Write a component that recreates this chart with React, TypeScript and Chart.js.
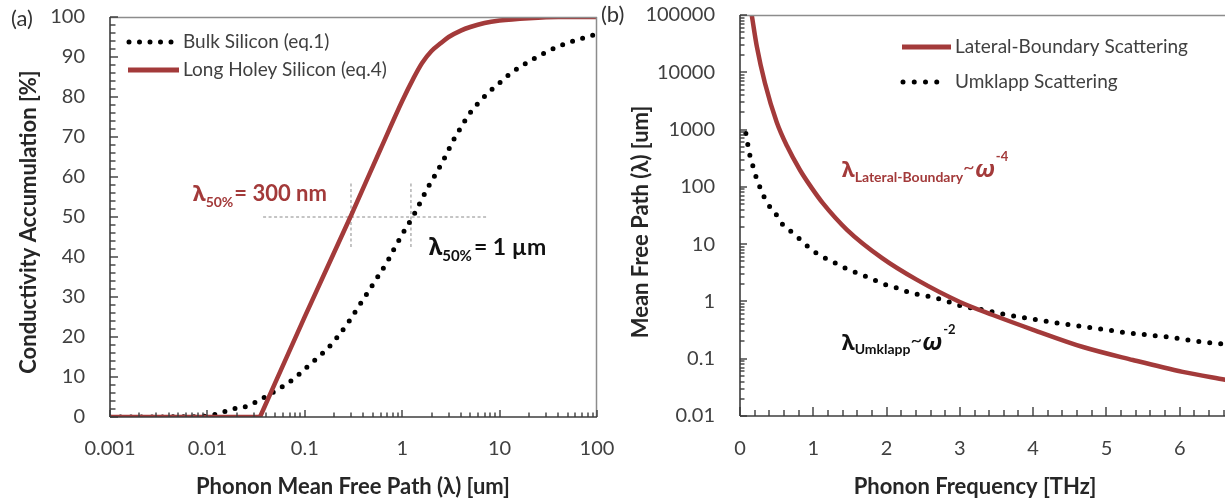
import React, { useEffect, useRef } from 'react';
import { Chart, registerables } from 'chart.js';

Chart.register(...registerables);

const FONT = "Lato, 'Noto Sans', 'DejaVu Sans', sans-serif";
const GREEK = "'Noto Sans', 'DejaVu Sans', sans-serif";
const RED = '#A33A3A';
const AXIS = '#3c3c3c';
const BORDER = '#8c8c8c';
const TICK_TEXT = '#404040';
const TITLE_TEXT = '#262626';

// ---------------- Panel (a): conductivity accumulation ----------------
const bulkMfp = [0.001, 0.008, 0.0114, 0.0183, 0.0238, 0.03, 0.037, 0.0556, 0.069, 0.083, 0.1, 0.124, 0.177, 0.213, 0.277, 0.35, 0.434, 0.577, 0.71, 0.824, 1.02, 1.35, 1.8, 2.3, 2.75, 3.32, 4.1, 4.97, 6.6, 8.0, 10.0, 12.8, 21.5, 41.7, 87, 100];
const bulkAccum = [0, 0.1, 0.5, 2.0, 2.5, 3.5, 4.7, 7.2, 8.7, 10.2, 12.0, 14.0, 17.5, 19.8, 23.5, 27.3, 30.8, 35.5, 39.0, 42.0, 46.0, 51.0, 57.0, 61.5, 65.0, 69.0, 72.8, 76.0, 79.5, 81.5, 83.5, 85.8, 89.3, 92.8, 95.3, 95.7];

// Long holey silicon: flat at zero until the kink, then rising
const holeyMfp = [0.001, 0.0347, 0.1, 0.3, 0.6, 1.0, 1.3, 1.6, 2.0, 2.5, 3.0, 4.0, 5.0, 7.0, 10, 20, 40, 100];
const holeyAccum = [0, 0, 25.1, 50.5, 67, 79, 84.6, 88.5, 91.5, 93.5, 95, 96.6, 97.5, 98.5, 99.1, 99.7, 100, 100];
const HOLEY_KINK_INDEX = 1;

const guideMidX = [0.0373, 7.43];
const guideMidY = [50, 50];
const guide300nmX = [0.298, 0.298];
const guide1umX = [1.23, 1.23];
const guideSpanY = [42.5, 58.5];

const A_X_TICKS = [0.001, 0.01, 0.1, 1, 10, 100];
const A_Y_TICKS = [0, 10, 20, 30, 40, 50, 60, 70, 80, 90, 100];

// ---------------- Panel (b): mean free path vs frequency ----------------
const lateralFreq = [0.16, 0.23, 0.34, 0.5, 0.64, 0.82, 0.98, 1.13, 1.46, 1.94, 2.41, 3.0, 3.45, 4.0, 4.68, 5.36, 6.04, 6.62, 7.0];
const lateralMfp = [100000, 28000, 6500, 1360, 520, 195, 95, 52, 17.8, 5.7, 2.4, 0.98, 0.58, 0.32, 0.16, 0.095, 0.059, 0.043, 0.035];

const umklappFreq = [0.08, 0.14, 0.18, 0.22, 0.27, 0.33, 0.38, 0.48, 0.57, 0.67, 0.78, 0.89, 1.0, 1.13, 1.27, 1.4, 1.53, 1.66, 1.8, 1.91, 2.06, 2.18, 2.33, 2.46, 2.62, 2.76, 2.9, 3.03, 3.32, 3.59, 3.92, 4.32, 4.78, 5.32, 5.83, 6.32, 6.6, 7.0];
const umklappMfp = [850, 330, 222, 148, 100, 66, 50, 35, 23, 17.8, 13.5, 10, 7.6, 6.0, 4.9, 4.0, 3.4, 2.9, 2.5, 2.1, 1.86, 1.66, 1.41, 1.3, 1.2, 1.07, 0.94, 0.83, 0.71, 0.6, 0.51, 0.42, 0.35, 0.28, 0.24, 0.195, 0.18, 0.16];

const B_X_TICKS = [0, 1, 2, 3, 4, 5, 6, 7];
const B_Y_TICKS = [0.01, 0.1, 1, 10, 100, 1000, 10000, 100000];

// ---------------- helpers ----------------
const pts = (xs: number[], ys: number[]) => xs.map((x, i) => ({ x, y: ys[i] }));

function seg(ctx: CanvasRenderingContext2D, x1: number, y1: number, x2: number, y2: number, color: string, w: number) {
  ctx.save();
  ctx.strokeStyle = color;
  ctx.lineWidth = w;
  ctx.setLineDash([]);
  ctx.beginPath();
  ctx.moveTo(x1, y1);
  ctx.lineTo(x2, y2);
  ctx.stroke();
  ctx.restore();
}

function dotted(ctx: CanvasRenderingContext2D, x1: number, x2: number, y: number, gap: number, w: number) {
  ctx.save();
  ctx.strokeStyle = '#000';
  ctx.lineWidth = w;
  ctx.lineCap = 'round';
  ctx.setLineDash([0, gap]);
  ctx.beginPath();
  ctx.moveTo(x1, y);
  ctx.lineTo(x2, y);
  ctx.stroke();
  ctx.restore();
}

type Part = { t: string; f: string; dy?: number; gap?: number };
function rich(ctx: CanvasRenderingContext2D, x: number, y: number, parts: Part[], color: string) {
  ctx.save();
  ctx.fillStyle = color;
  ctx.textAlign = 'left';
  ctx.textBaseline = 'alphabetic';
  let cx = x;
  for (const p of parts) {
    ctx.font = p.f;
    ctx.fillText(p.t, cx, y + (p.dy || 0));
    cx += ctx.measureText(p.t).width + (p.gap || 0);
  }
  ctx.restore();
}

function text(ctx: CanvasRenderingContext2D, s: string, x: number, y: number, font: string, color: string, align: CanvasTextAlign = 'left', rot = 0) {
  ctx.save();
  ctx.translate(x, y);
  if (rot) ctx.rotate(rot);
  ctx.font = font;
  ctx.fillStyle = color;
  ctx.textAlign = align;
  ctx.textBaseline = 'middle';
  ctx.fillText(s, 0, 0);
  ctx.restore();
}

function inwardTick(chart: any, scaleId: string, v: number, len: number) {
  const s = chart.scales[scaleId];
  const { left, right, top, bottom } = chart.chartArea;
  const ctx = chart.ctx as CanvasRenderingContext2D;
  const p = s.getPixelForValue(v);
  if (!isFinite(p)) return;
  if (s.isHorizontal()) {
    if (p < left - 0.5 || p > right + 0.5) return;
    seg(ctx, Math.round(p), bottom, Math.round(p), bottom - len, AXIS, 1.4);
  } else {
    if (p < top - 0.5 || p > bottom + 0.5) return;
    seg(ctx, left, Math.round(p), left + len, Math.round(p), AXIS, 1.4);
  }
}

function logMinors(decades: number[]) {
  const out: number[] = [];
  for (let i = 0; i < decades.length - 1; i++) for (let m = 2; m <= 9; m++) out.push(decades[i] * m);
  return out;
}
function linMinors(majors: number[], parts: number) {
  const out: number[] = [];
  for (let i = 0; i < majors.length - 1; i++) {
    const step = (majors[i + 1] - majors[i]) / parts;
    for (let k = 1; k < parts; k++) out.push(majors[i] + step * k);
  }
  return out;
}

function frame(chart: any) {
  const ctx = chart.ctx as CanvasRenderingContext2D;
  const { left, right, top, bottom } = chart.chartArea;
  seg(ctx, left, top + 0.5, right, top + 0.5, BORDER, 1.5);
  seg(ctx, right - 0.5, top, right - 0.5, bottom, BORDER, 1.5);
  seg(ctx, left, bottom, right, bottom, AXIS, 1.6);
  seg(ctx, left, top, left, bottom, AXIS, 1.6);
}

const TICK_FONT = { family: FONT, size: 20 };
const TITLE_FONT = `bold 22px ${FONT}`;
const LEGEND_FONT = `19px ${FONT}`;

// ---------------- plugins ----------------
const decorA = {
  id: 'decorA',
  afterDraw(chart: any) {
    const ctx = chart.ctx as CanvasRenderingContext2D;
    frame(chart);
    A_X_TICKS.forEach((v) => inwardTick(chart, 'x', v, 7));
    logMinors(A_X_TICKS).forEach((v) => inwardTick(chart, 'x', v, 4.5));
    A_Y_TICKS.forEach((v) => inwardTick(chart, 'y', v, 8));
    linMinors(A_Y_TICKS, 5).forEach((v) => inwardTick(chart, 'y', v, 5.5));

    // legend
    dotted(ctx, 129, 173, 42, 10.5, 5);
    text(ctx, 'Bulk Silicon (eq.1)', 183, 42, LEGEND_FONT, TICK_TEXT);
    seg(ctx, 128, 70, 179, 70, RED, 5);
    text(ctx, 'Long Holey Silicon (eq.4)', 183, 70, LEGEND_FONT, TICK_TEXT);

    // annotations
    rich(ctx, 193, 201, [
      { t: 'λ', f: `bold 22px ${GREEK}` },
      { t: '50%', f: `bold 14px ${FONT}`, dy: 6, gap: 1 },
      { t: '= 300 nm', f: `bold 22px ${FONT}` },
    ], RED);
    rich(ctx, 429, 255, [
      { t: 'λ', f: `bold 23px ${GREEK}` },
      { t: '50%', f: `bold 15px ${FONT}`, dy: 6, gap: 2 },
      { t: '= 1 µm', f: `bold 23px ${FONT}` },
    ], '#111');

    // titles
    text(ctx, '(a)', 11, 19, `22px ${FONT}`, '#333');
    text(ctx, 'Conductivity Accumulation [%]', 29, 222, TITLE_FONT, TITLE_TEXT, 'center', -Math.PI / 2);
    text(ctx, 'Phonon Mean Free Path (λ) [um]', 353, 487, TITLE_FONT, TITLE_TEXT, 'center');
  },
};

const B_OFF = 600;
const decorB = {
  id: 'decorB',
  afterDraw(chart: any) {
    const ctx = chart.ctx as CanvasRenderingContext2D;
    frame(chart);
    B_X_TICKS.forEach((v) => inwardTick(chart, 'x', v, 9));
    linMinors(B_X_TICKS, 5).forEach((v) => inwardTick(chart, 'x', v, 6));
    B_Y_TICKS.forEach((v) => inwardTick(chart, 'y', v, 7));
    logMinors(B_Y_TICKS).forEach((v) => inwardTick(chart, 'y', v, 4.5));

    // legend
    seg(ctx, 902 - B_OFF, 47, 951 - B_OFF, 47, RED, 5);
    text(ctx, 'Lateral-Boundary Scattering', 955 - B_OFF, 47, LEGEND_FONT, TICK_TEXT);
    dotted(ctx, 903 - B_OFF, 948 - B_OFF, 82, 11.25, 5);
    text(ctx, 'Umklapp Scattering', 955 - B_OFF, 82, LEGEND_FONT, TICK_TEXT);

    // annotations
    rich(ctx, 842 - B_OFF, 177, [
      { t: 'λ', f: `bold 22px ${GREEK}` },
      { t: 'Lateral-Boundary', f: `bold 14px ${FONT}`, dy: 5 },
      { t: '~', f: `20px ${FONT}`, dy: -3 },
      { t: 'ω', f: `italic bold 24px ${GREEK}`, gap: 1 },
      { t: '-4', f: `bold 13px ${FONT}`, dy: -16 },
    ], RED);
    rich(ctx, 842 - B_OFF, 350, [
      { t: 'λ', f: `bold 22px ${GREEK}` },
      { t: 'Umklapp', f: `bold 14px ${FONT}`, dy: 4 },
      { t: '~', f: `20px ${FONT}`, dy: -3 },
      { t: 'ω', f: `italic bold 24px ${GREEK}`, gap: 1 },
      { t: '-2', f: `bold 13px ${FONT}`, dy: -16 },
    ], '#111');

    // titles
    text(ctx, '(b)', 1, 15, `22px ${FONT}`, '#333');
    text(ctx, 'Mean Free Path (λ) [um]', 641 - B_OFF, 222, TITLE_FONT, TITLE_TEXT, 'center', -Math.PI / 2);
    text(ctx, 'Phonon Frequency [THz]', 975 - B_OFF, 487, TITLE_FONT, TITLE_TEXT, 'center');
  },
};

function axisBase(ticksArr: number[], fitSize: number, horizontal: boolean, pad: number) {
  return {
    afterBuildTicks: (s: any) => {
      s.ticks = ticksArr.map((v) => ({ value: v }));
    },
    afterFit: (s: any) => {
      if (horizontal) s.height = fitSize;
      else s.width = fitSize;
      s.paddingLeft = 0;
      s.paddingRight = 0;
      s.paddingTop = 0;
      s.paddingBottom = 0;
    },
    grid: { display: false, drawTicks: false },
    border: { display: false },
    title: { display: false },
    ticks: {
      callback: (v: any) => String(v),
      font: TICK_FONT,
      color: TICK_TEXT,
      padding: pad,
      autoSkip: false,
      maxRotation: 0,
      minRotation: 0,
    },
  };
}

export default function App() {
  const aRef = useRef<HTMLCanvasElement>(null);
  const bRef = useRef<HTMLCanvasElement>(null);

  useEffect(() => {
    Chart.defaults.font.family = FONT;

    const holeyPts = pts(holeyMfp, holeyAccum);
    const redLine = { borderColor: RED, borderWidth: 4.5, pointRadius: 0, borderJoinStyle: 'round' };

    const chartA = new Chart(aRef.current as HTMLCanvasElement, {
      type: 'line',
      data: {
        datasets: [
          { label: 'Long Holey Silicon (eq.4)', data: holeyPts.slice(HOLEY_KINK_INDEX), cubicInterpolationMode: 'monotone', ...redLine },
          { label: 'Long Holey Silicon (eq.4) – zero part', data: holeyPts.slice(0, HOLEY_KINK_INDEX + 1), tension: 0, ...redLine },
          {
            label: 'Bulk Silicon (eq.1)',
            data: pts(bulkMfp, bulkAccum),
            borderColor: '#000',
            borderWidth: 5,
            borderDash: [0, 10.5],
            borderCapStyle: 'round',
            pointRadius: 0,
            cubicInterpolationMode: 'monotone',
          },
          { data: pts(guideMidX, guideMidY), borderColor: '#8a8a8a', borderWidth: 1, borderDash: [3, 2.5], pointRadius: 0 },
          { data: pts(guide300nmX, guideSpanY), borderColor: '#8a8a8a', borderWidth: 1, borderDash: [3, 2.5], pointRadius: 0 },
          { data: pts(guide1umX, guideSpanY), borderColor: '#8a8a8a', borderWidth: 1, borderDash: [3, 2.5], pointRadius: 0 },
        ] as any,
      },
      options: {
        responsive: false,
        animation: false,
        events: [],
        layout: { padding: { left: 0, top: 17, right: 28, bottom: 0 } },
        plugins: { legend: { display: false }, tooltip: { enabled: false } },
        scales: {
          x: { type: 'logarithmic', min: 0.001, max: 100, ...axisBase(A_X_TICKS, 84, true, 20) } as any,
          y: { type: 'linear', min: 0, max: 100, ...axisBase(A_Y_TICKS, 110, false, 25) } as any,
        },
      },
      plugins: [decorA],
    });

    const chartB = new Chart(bRef.current as HTMLCanvasElement, {
      type: 'line',
      data: {
        datasets: [
          {
            label: 'Lateral-Boundary Scattering',
            data: pts(lateralFreq, lateralMfp),
            borderColor: RED,
            borderWidth: 4.5,
            pointRadius: 0,
            cubicInterpolationMode: 'monotone',
          },
          {
            label: 'Umklapp Scattering',
            data: pts(umklappFreq, umklappMfp),
            borderColor: '#000',
            borderWidth: 5,
            borderDash: [0, 11],
            borderCapStyle: 'round',
            pointRadius: 0,
            cubicInterpolationMode: 'monotone',
          },
        ] as any,
      },
      options: {
        responsive: false,
        animation: false,
        events: [],
        layout: { padding: { left: 0, top: 15, right: 7, bottom: 0 } },
        plugins: { legend: { display: false }, tooltip: { enabled: false } },
        scales: {
          x: { type: 'linear', min: 0, max: 7, ...axisBase(B_X_TICKS, 85, true, 21) } as any,
          y: { type: 'logarithmic', min: 0.01, max: 100000, ...axisBase(B_Y_TICKS, 140, false, 25) } as any,
        },
      },
      plugins: [decorB],
    });

    return () => {
      chartA.destroy();
      chartB.destroy();
    };
  }, []);

  return (
    <div style={{ position: 'fixed', left: 0, top: 0, width: 1225, height: 501, overflow: 'hidden', background: '#fff' }}>
      <canvas ref={aRef} width={625} height={501} style={{ position: 'absolute', left: 0, top: 0, width: 625, height: 501 }} />
      <canvas ref={bRef} width={660} height={501} style={{ position: 'absolute', left: 600, top: 0, width: 660, height: 501 }} />
    </div>
  );
}
